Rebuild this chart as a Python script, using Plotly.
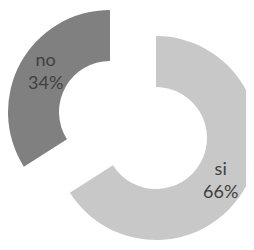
import math
import plotly.graph_objects as go

# ---- data ----
labels = ["si", "no"]
values = [66, 34]
colors = ["#c8c8c8", "#808080"]

# ---- layout / styling constants ----
W, H = 254, 250
HOLE = 0.5
R = 102                      # outer radius in px
# exploded slice centres (px, y measured downward from figure top)
centres = {"si": (148, 130), "no": (102, 104)}
LABEL_ANGLE_SHIFT = 4        # degrees, label nudge along the ring
FONT = dict(family="Lato, Open Sans, sans-serif", size=18, color="#404040")

total = sum(values)
fig = go.Figure()
annotations = []
cum = 0
for i, (lab, v) in enumerate(zip(labels, values)):
    cx, cy = centres[lab]
    slice_colors = [c if j == i else "rgba(0,0,0,0)" for j, c in enumerate(colors)]
    fig.add_trace(
        go.Pie(
            labels=labels,
            values=values,
            hole=HOLE,
            sort=False,
            direction="clockwise",
            rotation=0,
            marker=dict(colors=slice_colors, line=dict(width=0)),
            textinfo="none",
            hoverinfo="skip",
            showlegend=False,
            domain=dict(
                x=[(cx - R) / W, (cx + R) / W],
                y=[(H - cy - R) / H, (H - cy + R) / H],
            ),
        )
    )
    mid = math.radians((cum + v / 2) / total * 360 + LABEL_ANGLE_SHIFT)
    cum += v
    rr = R * (1 + HOLE) / 2
    lx = cx + rr * math.sin(mid)
    ly = cy - rr * math.cos(mid)
    pct = round(100 * v / total)
    annotations.append(
        dict(
            x=lx / W,
            y=1 - ly / H,
            xref="paper",
            yref="paper",
            text=f"{lab}<br>{pct}%",
            showarrow=False,
            xanchor="center",
            yanchor="middle",
            font=FONT,
        )
    )

fig.update_layout(
    width=W,
    height=H,
    margin=dict(l=0, r=0, t=0, b=0),
    paper_bgcolor="white",
    plot_bgcolor="white",
    annotations=annotations,
)

fig.write_html("out.html")
